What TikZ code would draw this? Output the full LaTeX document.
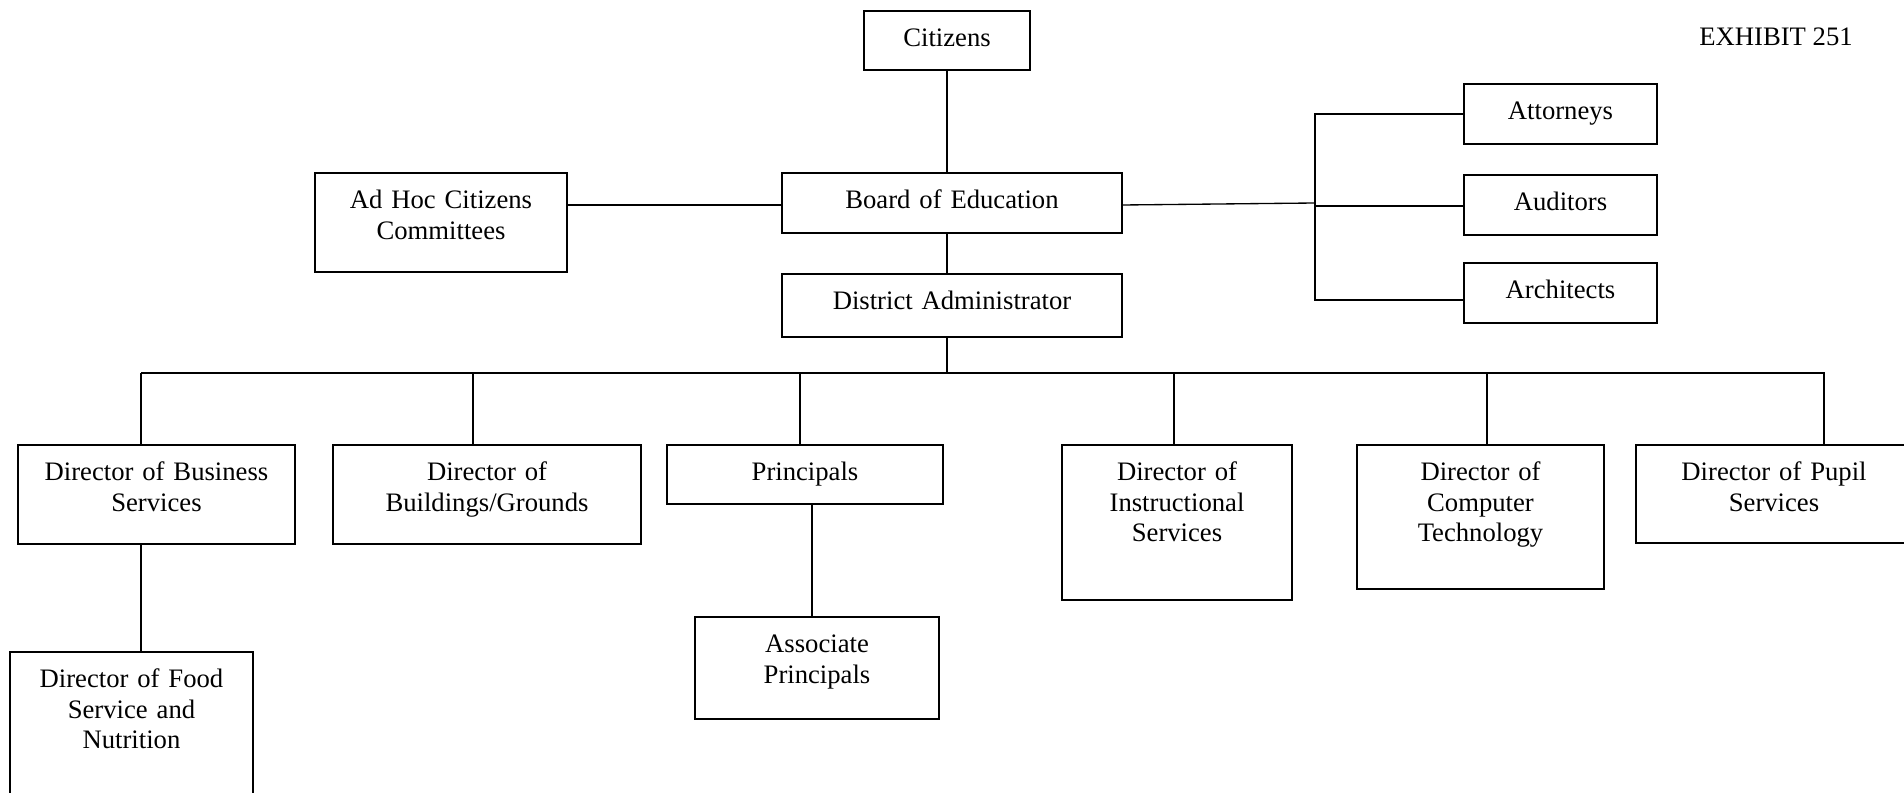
\documentclass[tikz,border=0pt]{standalone}
\usepackage{fontspec}
\setmainfont{Liberation Serif}
\usetikzlibrary{positioning}
\tikzstyle{box} = [rectangle, draw=black, line width=0.9pt, inner sep=0pt, align=center, anchor=north, text height=16pt, font=\fontsize{12}{13.8}\selectfont]
\tikzstyle{wire} = [line width=0.6pt]

\begin{document}
\begin{tikzpicture}[x=0.45pt, y=-0.45pt]
		\useasboundingbox (0,0) rectangle (1904,793);
		\clip (0,0) rectangle (1904,793);
		\node[font=\fontsize{12}{13.8}\selectfont] (exhibit) at (1776,37) {EXHIBIT 251};

		% top of the chart
		\node[box, text width=74.7pt, text depth=10.55pt] (citizens) at (947,10) {Citizens};
		\node[box, text width=153pt, text depth=11pt] (board) at (952,172) {Board of Education};
		\node[box, text width=153pt, text depth=12.35pt, below=17.55pt of board] (district) {District Administrator};
		\node[box, text width=113.4pt, text depth=28.55pt] (adhoc) at (441,172) {Ad Hoc Citizens\\Committees};

		% advisers
		\node[box, text width=86.85pt, text depth=11pt] (attorneys) at (1560.5,83) {Attorneys};
		\node[box, text width=86.85pt, text depth=11pt, below=13.05pt of attorneys] (auditors) {Auditors};
		\node[box, text width=86.85pt, text depth=11pt, below=11.7pt of auditors] (architects) {Architects};

		% directors
		\node[box, text width=124.65pt, text depth=28.55pt] (business) at (156.5,444) {Director of Business\\Services};
		\node[box, text width=138.6pt, text depth=28.55pt] (buildings) at (487,444) {Director of\\Buildings/Grounds};
		\node[box, text width=124.2pt, text depth=10.55pt] (principals) at (805,444) {Principals};
		\node[box, text width=103.5pt, text depth=53.75pt] (instructional) at (1177,444) {Director of\\Instructional\\Services};
		\node[box, text width=111.15pt, text depth=48.8pt] (computer) at (1480.5,444) {Director of\\Computer\\Technology};
		\node[box, text width=124.2pt, text depth=28.1pt] (pupil) at (1774,444) {Director of Pupil\\Services};
		\node[box, text width=109.35pt, text depth=56pt] (food) at (131.5,651) {Director of Food\\Service and\\Nutrition};
		\node[box, text width=109.8pt, text depth=29.9pt] (associate) at (817,616) {Associate\\Principals};

		% connectors
		\draw[wire] (citizens.south) -- (citizens.south |- board.north);
		\draw[wire] (citizens.south |- board.south) -- (citizens.south |- district.north);
		\draw[wire] (adhoc.east |- 0,205) -- (board.west |- 0,205);
		\coordinate (bracket) at (1315,203);
		\coordinate (bracketlow) at (1315,300);
		\draw[wire] (board.east |- 0,205) -- (bracket);
		\draw[wire] (attorneys.west) -| (bracketlow) -- (bracketlow -| architects.west);
		\draw[wire] (bracket |- 0,206) -- (auditors.west |- 0,206);

		\coordinate (busleft) at (141,373);
		\coordinate (busright) at (1825,373);
		\draw[wire] (busleft) -- (busright);
		\draw[wire] (citizens.south |- district.south) -- (citizens.south |- busleft);
		\foreach \n/\x in {business/141, buildings/473, principals/800, instructional/1174, computer/1487, pupil/1824}
			\draw[wire] (\x,373) -- (\x,373 |- \n.north);
		\draw[wire] (business.south -| busleft) -- (food.north -| busleft);
		\draw[wire] (principals.south -| 812,0) -- (associate.north -| 812,0);
	\end{tikzpicture}
\end{document}
